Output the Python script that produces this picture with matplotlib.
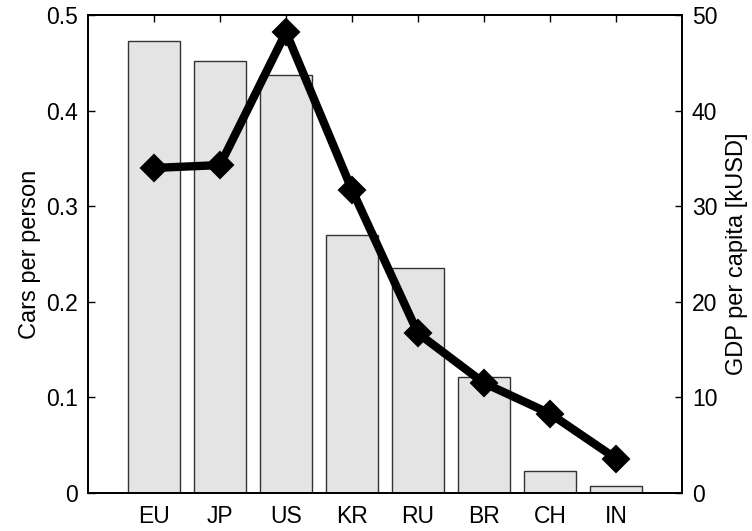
import matplotlib.pyplot as plt

plt.rcParams['font.family'] = ['Liberation Sans', 'DejaVu Sans']

countries = ['EU', 'JP', 'US', 'KR', 'RU', 'BR', 'CH', 'IN']
cars_per_person = [0.473, 0.452, 0.437, 0.270, 0.235, 0.121, 0.023, 0.007]
gdp_per_capita = [34.0, 34.3, 48.2, 31.7, 16.7, 11.5, 8.3, 3.6]

x = list(range(1, len(countries) + 1))

fig = plt.figure(figsize=(7.52, 5.31), dpi=100)
ax = fig.add_axes([0.117, 0.0716, 0.79, 0.9002])

ax.bar(x, cars_per_person, width=0.8, color='#e4e4e4', edgecolor='#333333', linewidth=1.0)
ax.set_xlim(0, 9)
ax.set_ylim(0, 0.5)
ax.set_xticks(x)
ax.set_xticklabels(countries)
ax.set_yticks([0, 0.1, 0.2, 0.3, 0.4, 0.5])
ax.set_yticklabels(['0', '0.1', '0.2', '0.3', '0.4', '0.5'])
ax.set_ylabel('Cars per person', fontsize=17, labelpad=4)
ax.tick_params(axis='x', direction='in', bottom=False, top=True, length=5, width=1, labelsize=16.5, pad=9)
ax.tick_params(axis='y', direction='in', left=True, right=False, length=5, width=1, labelsize=16.5, pad=7)

ax2 = ax.twinx()
ax2.plot(x, gdp_per_capita, color='black', linewidth=6, marker='D', markersize=13,
         markerfacecolor='black', markeredgecolor='black', markeredgewidth=1.5)
ax2.set_ylim(0, 50)
ax2.set_yticks([0, 10, 20, 30, 40, 50])
ax2.set_ylabel('GDP per capita [kUSD]', fontsize=17, labelpad=6)
ax2.tick_params(axis='y', direction='in', length=5, width=1, labelsize=16.5, pad=7)

for a in (ax, ax2):
    for s in a.spines.values():
        s.set_linewidth(1.3)

fig.savefig('out.png', dpi=100)
